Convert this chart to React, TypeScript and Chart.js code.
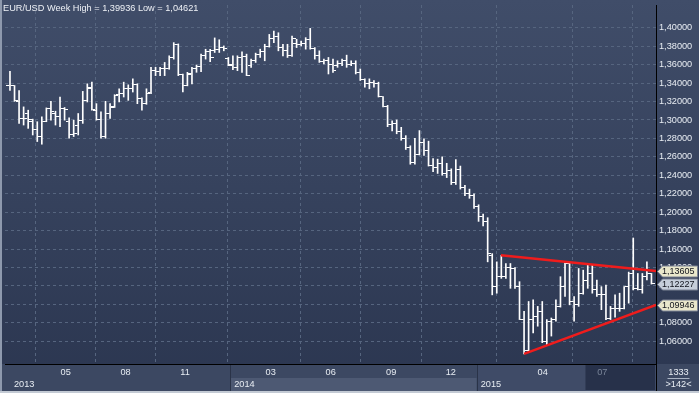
import React, { useEffect, useRef } from 'react';
import { Chart, registerables } from 'chart.js';

Chart.register(...registerables);

// ---- data (weekly OHLC, EUR/USD) ----
const opens = [
  1.3374, 1.3370, 1.3195, 1.3016, 1.3070, 1.2981, 1.2900, 1.2820, 1.2988, 1.3124,
  1.3070, 1.3034, 1.3124, 1.2981, 1.2837, 1.2945, 1.2998, 1.3213, 1.3356, 1.3106,
  1.3009, 1.2820, 1.3070, 1.3142, 1.3274, 1.3285, 1.3345, 1.3338, 1.3381, 1.3231,
  1.3177, 1.3303, 1.3535, 1.3530, 1.3553, 1.3553, 1.3678, 1.3821, 1.3488, 1.3374,
  1.3499, 1.3553, 1.3581, 1.3700, 1.3740, 1.3750, 1.3767, 1.3785, 1.3670, 1.3600,
  1.3570, 1.3680, 1.3690, 1.3589, 1.3642, 1.3710, 1.3740, 1.3800, 1.3880, 1.3910,
  1.3790, 1.3750, 1.3696, 1.3830, 1.3820, 1.3830, 1.3870, 1.3775, 1.3700, 1.3630,
  1.3640, 1.3607, 1.3589, 1.3610, 1.3640, 1.3600, 1.3610, 1.3520, 1.3440, 1.3400,
  1.3410, 1.3400, 1.3250, 1.3150, 1.2950, 1.2960, 1.2880, 1.2800, 1.2700, 1.2540,
  1.2630, 1.2760, 1.2670, 1.2510, 1.2480, 1.2525, 1.2420, 1.2455, 1.2320, 1.2465,
  1.2270, 1.2200, 1.2180, 1.2060, 1.1950, 1.1900, 1.1530, 1.1192, 1.1300, 1.1300,
  1.1400, 1.1390, 1.1192, 1.0840, 1.0495, 1.0835, 1.0870, 1.0924, 1.0600, 1.0817,
  1.0835, 1.0978, 1.1192, 1.1443, 1.1031, 1.0995, 1.1121, 1.1264, 1.1335, 1.1156,
  1.1103, 1.1103, 1.0850, 1.0960, 1.0960, 1.0960, 1.1192, 1.1335, 1.1174, 1.1156,
  1.1300, 1.1335,
];
const highs = [
  1.3528, 1.3374, 1.3320, 1.3142, 1.3106, 1.3009, 1.2981, 1.3034, 1.3131, 1.3202,
  1.3095, 1.3249, 1.3135, 1.3023, 1.2998, 1.3070, 1.3310, 1.3392, 1.3410, 1.3177,
  1.3088, 1.3202, 1.3177, 1.3274, 1.3338, 1.3410, 1.3381, 1.3446, 1.3392, 1.3240,
  1.3338, 1.3571, 1.3571, 1.3571, 1.3624, 1.3696, 1.3839, 1.3825, 1.3499, 1.3517,
  1.3571, 1.3596, 1.3714, 1.3767, 1.3767, 1.3890, 1.3870, 1.3803, 1.3678, 1.3696,
  1.3696, 1.3739, 1.3714, 1.3660, 1.3725, 1.3768, 1.3821, 1.3928, 1.3964, 1.3946,
  1.3821, 1.3821, 1.3911, 1.3875, 1.3857, 1.3893, 1.39936, 1.3785, 1.3750, 1.3660,
  1.3678, 1.3660, 1.3642, 1.3660, 1.3703, 1.3642, 1.3642, 1.3553, 1.3446, 1.3446,
  1.3428, 1.3410, 1.3255, 1.3159, 1.2990, 1.3000, 1.2920, 1.2830, 1.2720, 1.2800,
  1.2885, 1.2795, 1.2770, 1.2580, 1.2575, 1.2600, 1.2530, 1.2470, 1.2570, 1.2500,
  1.2290, 1.2250, 1.2200, 1.2080, 1.1980, 1.1940, 1.1550, 1.1461, 1.1532, 1.1443,
  1.1443, 1.1400, 1.1246, 1.0924, 1.1031, 1.1049, 1.0978, 1.1031, 1.0835, 1.0852,
  1.1049, 1.1300, 1.1461, 1.1450, 1.1085, 1.1389, 1.1371, 1.1435, 1.1425, 1.1264,
  1.1192, 1.1210, 1.0978, 1.1103, 1.1121, 1.1192, 1.1350, 1.1720, 1.1335, 1.1335,
  1.1461, 1.1335,
];
const lows = [
  1.3320, 1.3202, 1.2963, 1.2945, 1.2909, 1.2837, 1.2766, 1.2737, 1.2981, 1.2998,
  1.2945, 1.2927, 1.2998, 1.2802, 1.2820, 1.2837, 1.2963, 1.3195, 1.3106, 1.2998,
  1.2802, 1.2802, 1.3016, 1.3135, 1.3195, 1.3249, 1.3213, 1.3303, 1.3177, 1.3106,
  1.3170, 1.3285, 1.3481, 1.3481, 1.3481, 1.3550, 1.3660, 1.3481, 1.3303, 1.3370,
  1.3392, 1.3517, 1.3524, 1.3660, 1.3632, 1.3732, 1.3732, 1.3750, 1.3589, 1.3546,
  1.3535, 1.3517, 1.3481, 1.3571, 1.3624, 1.3678, 1.3642, 1.3790, 1.3839, 1.3750,
  1.3696, 1.3678, 1.3690, 1.3785, 1.3803, 1.3768, 1.3768, 1.3660, 1.3624, 1.3607,
  1.3499, 1.3517, 1.3571, 1.3589, 1.3571, 1.3589, 1.3499, 1.3428, 1.3356, 1.3338,
  1.3356, 1.3249, 1.3142, 1.2927, 1.2880, 1.2850, 1.2780, 1.2680, 1.2520, 1.2520,
  1.2620, 1.2615, 1.2500, 1.2440, 1.2420, 1.2400, 1.2375, 1.2300, 1.2300, 1.2250,
  1.2180, 1.2150, 1.2040, 1.1900, 1.1850, 1.1461, 1.1103, 1.1121, 1.1282, 1.1282,
  1.1174, 1.1174, 1.0835, 1.04621, 1.0480, 1.0691, 1.0763, 1.0584, 1.0560, 1.0656,
  1.0817, 1.0970, 1.1085, 1.0995, 1.0817, 1.0978, 1.1110, 1.1174, 1.1121, 1.1085,
  1.0942, 1.0835, 1.0835, 1.0860, 1.0924, 1.0950, 1.1013, 1.1156, 1.1156, 1.1121,
  1.1264, 1.1220,
];
const closes = [
  1.3370, 1.3210, 1.3016, 1.3020, 1.3009, 1.2900, 1.2820, 1.2988, 1.3124, 1.3088,
  1.3034, 1.3124, 1.3110, 1.2837, 1.2855, 1.2998, 1.3213, 1.3338, 1.3115, 1.3009,
  1.2820, 1.3070, 1.3140, 1.3265, 1.3285, 1.3345, 1.3338, 1.3381, 1.3231, 1.3177,
  1.3285, 1.3535, 1.3530, 1.3553, 1.3560, 1.3678, 1.3821, 1.3488, 1.3374, 1.3488,
  1.3553, 1.3581, 1.3700, 1.3740, 1.3678, 1.3767, 1.3785, 1.3770, 1.3595, 1.3570,
  1.3680, 1.3690, 1.3485, 1.3642, 1.3710, 1.3740, 1.3800, 1.3880, 1.3910, 1.3790,
  1.3750, 1.3696, 1.3880, 1.3820, 1.3830, 1.3870, 1.3775, 1.3700, 1.3630, 1.3640,
  1.3607, 1.3540, 1.3610, 1.3640, 1.3600, 1.3610, 1.3520, 1.3440, 1.3400, 1.3410,
  1.3400, 1.3250, 1.3150, 1.2950, 1.2960, 1.2880, 1.2800, 1.2700, 1.2540, 1.2630,
  1.2760, 1.2670, 1.2510, 1.2480, 1.2525, 1.2420, 1.2455, 1.2320, 1.2465, 1.2270,
  1.2200, 1.2180, 1.2060, 1.1950, 1.1900, 1.1550, 1.1192, 1.1300, 1.1300, 1.1400,
  1.1390, 1.1192, 1.0840, 1.0495, 1.0835, 1.0870, 1.0924, 1.0600, 1.0817, 1.0835,
  1.0978, 1.1192, 1.1443, 1.1031, 1.0995, 1.1121, 1.1264, 1.1335, 1.1156, 1.1103,
  1.1103, 1.0850, 1.0960, 1.0960, 1.0960, 1.1192, 1.1335, 1.1174, 1.1156, 1.1300,
  1.1335, 1.12227,
];

const yTickValues = [1.06, 1.08, 1.10, 1.12, 1.14, 1.16, 1.18, 1.20, 1.22, 1.24, 1.26, 1.28, 1.30, 1.32, 1.34, 1.36, 1.38, 1.40];
const monthTickPos = [12.25, 25.4, 38.5, 57.3, 70.5, 83.8, 96.9, 117.1, 130.2];
const monthTickLabels = ['05', '08', '11', '03', '06', '09', '12', '04', '07'];
const yearStarts = [-1.094, 48.4, 102.6];
const yearLabels = ['2013', '2014', '2015'];
const inactiveFrom = 126.5;
const upperTrend = [{ x: 107.9, y: 1.1532 }, { x: 142.0, y: 1.13605 }];
const lowerTrend = [{ x: 113.0, y: 1.04621 }, { x: 142.0, y: 1.09946 }];
const titleText = 'EUR/USD Week High = 1,39936 Low = 1,04621';
const infoTop = '1333';
const infoBottom = '>142<';

const X_MIN = -1.094;
const X_MAX = 142.0;
const Y_MIN = 1.0353;
const Y_MAX = 1.4247;

const FONT = '"Liberation Sans", Arial, sans-serif';
const fmt = (v: number) => v.toFixed(5).replace('.', ',');

function tickImage(side: 'left' | 'right') {
  const c = document.createElement('canvas');
  c.width = 7;
  c.height = 1;
  const g = c.getContext('2d')!;
  g.fillStyle = '#ffffff';
  if (side === 'left') g.fillRect(0, 0, 3, 1);
  else g.fillRect(4, 0, 3, 1);
  return c;
}

const decor = {
  id: 'decor',
  beforeDraw(chart: any) {
    const { ctx, chartArea: a, scales } = chart;
    const x = scales.x;
    const W = chart.width;
    const H = chart.height;
    ctx.save();
    const g = ctx.createLinearGradient(0, 0, 0, H);
    g.addColorStop(0, '#404d69');
    g.addColorStop(1, '#2b3650');
    ctx.fillStyle = g;
    ctx.fillRect(0, 0, W, H);
    const top = a.bottom;
    const mid = a.bottom + 14;
    const bot = H - 2;
    ctx.fillStyle = '#3c4862';
    ctx.fillRect(0, top, W, bot - top);
    const b1 = x.getPixelForValue(yearStarts[1]);
    const b2 = x.getPixelForValue(yearStarts[2]);
    ctx.fillStyle = '#4d5973';
    ctx.fillRect(b1, mid, b2 - b1, bot - mid);
    ctx.fillStyle = '#3f4b67';
    ctx.fillRect(b2, top, a.right - b2, bot - top);
    const d = x.getPixelForValue(inactiveFrom);
    ctx.fillStyle = '#27314a';
    ctx.fillRect(d, top + 1, a.right - d - 1, bot - top - 2);
    ctx.fillStyle = '#2a3348';
    ctx.fillRect(Math.round(b1), top, 1, bot - top);
    ctx.fillRect(Math.round(b2), top, 1, bot - top);
    ctx.restore();
  },
  afterDraw(chart: any) {
    const { ctx, chartArea: a, scales } = chart;
    const x = scales.x;
    const y = scales.y;
    const W = chart.width;
    const H = chart.height;
    const top = a.bottom;
    const bot = H - 2;
    ctx.save();
    // year labels
    ctx.font = `9.2px ${FONT}`;
    ctx.fillStyle = '#e8edf3';
    ctx.textBaseline = 'middle';
    ctx.textAlign = 'left';
    yearLabels.forEach((lab, i) => {
      const px = i === 0 ? a.left + 9 : x.getPixelForValue(yearStarts[i]) + 4;
      ctx.fillText(lab, px, top + 20);
    });
    // right-bottom info box
    ctx.fillStyle = '#000';
    ctx.fillRect(Math.round(a.right), top, 1, bot - top);
    ctx.fillStyle = '#e8edf3';
    ctx.textAlign = 'center';
    const cx = (a.right + W) / 2 + 1;
    ctx.fillText(infoTop, cx, top + 8);
    ctx.fillText(infoBottom, cx, top + 20);
    ctx.fillStyle = '#aab4c4';
    ctx.fillRect(cx - 11, top + 14, 22, 1);
    // price tags
    const tags = [
      { v: upperTrend[1].y, fill: '#e9e7cb' },
      { v: closes[closes.length - 1], fill: '#c6ceda' },
      { v: lowerTrend[1].y, fill: '#e9e7cb' },
    ];
    ctx.font = `9px ${FONT}`;
    tags.forEach((t) => {
      const yc = Math.round(y.getPixelForValue(t.v)) + 0.5;
      ctx.beginPath();
      ctx.moveTo(a.right + 1.5, yc);
      ctx.lineTo(a.right + 6.5, yc - 5.5);
      ctx.lineTo(W - 1.5, yc - 5.5);
      ctx.lineTo(W - 1.5, yc + 5.5);
      ctx.lineTo(a.right + 6.5, yc + 5.5);
      ctx.closePath();
      ctx.fillStyle = t.fill;
      ctx.fill();
      ctx.strokeStyle = '#7c8394';
      ctx.lineWidth = 1;
      ctx.stroke();
      ctx.fillStyle = '#11141c';
      ctx.textAlign = 'left';
      ctx.fillText(fmt(t.v), a.right + 6, yc + 0.5);
    });
    // title
    ctx.font = `9.2px ${FONT}`;
    ctx.fillStyle = '#eef1f6';
    ctx.textAlign = 'left';
    ctx.fillText(titleText, 3, 8);
    // frame
    ctx.fillStyle = '#8e99ad';
    ctx.fillRect(0, 0, 2, H);
    ctx.fillStyle = '#c3cad4';
    ctx.fillRect(0, H - 2, W, 2);
    ctx.restore();
  },
};

export default function App() {
  const ref = useRef<HTMLCanvasElement>(null);
  useEffect(() => {
    document.body.style.margin = '0';
    const openImg = tickImage('left');
    const closeImg = tickImage('right');
    const gridColor = '#56657f';
    const chart = new Chart(ref.current!, {
      type: 'bar',
      data: {
        datasets: [
          {
            type: 'line',
            data: upperTrend,
            borderColor: '#f01c1c',
            borderWidth: 2.5,
            pointRadius: 0,
            fill: false,
            tension: 0,
          } as any,
          {
            type: 'line',
            data: lowerTrend,
            borderColor: '#f01c1c',
            borderWidth: 2.5,
            pointRadius: 0,
            fill: false,
            tension: 0,
          } as any,
          {
            type: 'scatter',
            data: opens.map((o, i) => ({ x: i, y: o })),
            pointStyle: openImg,
            pointRadius: 1,
            showLine: false,
          } as any,
          {
            type: 'scatter',
            data: closes.map((c, i) => ({ x: i, y: c })),
            pointStyle: closeImg,
            pointRadius: 1,
            showLine: false,
          } as any,
          {
            type: 'bar',
            data: highs.map((h, i) => ({ x: i, y: [lows[i], h] })),
            backgroundColor: '#ffffff',
            borderWidth: 0,
            borderSkipped: false,
            barThickness: 1,
            grouped: false,
          } as any,
        ],
      },
      options: {
        responsive: false,
        animation: false,
        devicePixelRatio: 1,
        events: [],
        layout: { padding: { top: 1, left: 2, right: 0, bottom: 2 } },
        plugins: { legend: { display: false }, tooltip: { enabled: false }, title: { display: false } },
        scales: {
          x: {
            type: 'linear',
            position: 'bottom',
            min: X_MIN,
            max: X_MAX,
            offset: false,
            afterBuildTicks: (s: any) => {
              s.ticks = monthTickPos.map((v) => ({ value: v }));
            },
            afterFit: (s: any) => {
              s.height = 27;
              s.paddingLeft = 0;
              s.paddingRight = 0;
            },
            grid: { color: gridColor, drawTicks: false, lineWidth: 1 },
            border: { display: true, color: '#000000', width: 1, dash: [3, 3] },
            ticks: {
              autoSkip: false,
              maxRotation: 0,
              padding: 3,
              font: { family: FONT, size: 9.2 },
              color: (c: any) => (c.tick && c.tick.value > inactiveFrom ? '#7a8599' : '#e8edf3'),
              callback: (_v: any, i: number) => monthTickLabels[i],
            },
          },
          y: {
            type: 'linear',
            position: 'right',
            min: Y_MIN,
            max: Y_MAX,
            afterBuildTicks: (s: any) => {
              s.ticks = yTickValues.map((v) => ({ value: v }));
            },
            afterFit: (s: any) => {
              s.width = 43;
              s.paddingTop = 0;
              s.paddingBottom = 0;
            },
            grid: { color: gridColor, drawTicks: false, lineWidth: 1 },
            border: { display: true, color: '#000000', width: 1, dash: [3, 3] },
            ticks: {
              padding: 3,
              font: { family: FONT, size: 9.2 },
              color: '#e8edf3',
              callback: (v: any) => fmt(Number(v)),
            },
          },
        },
      } as any,
      plugins: [decor],
    });
    return () => chart.destroy();
  }, []);
  return (
    <div style={{ width: 699, height: 393 }}>
      <canvas ref={ref} width={699} height={393} style={{ display: 'block' }} />
    </div>
  );
}
